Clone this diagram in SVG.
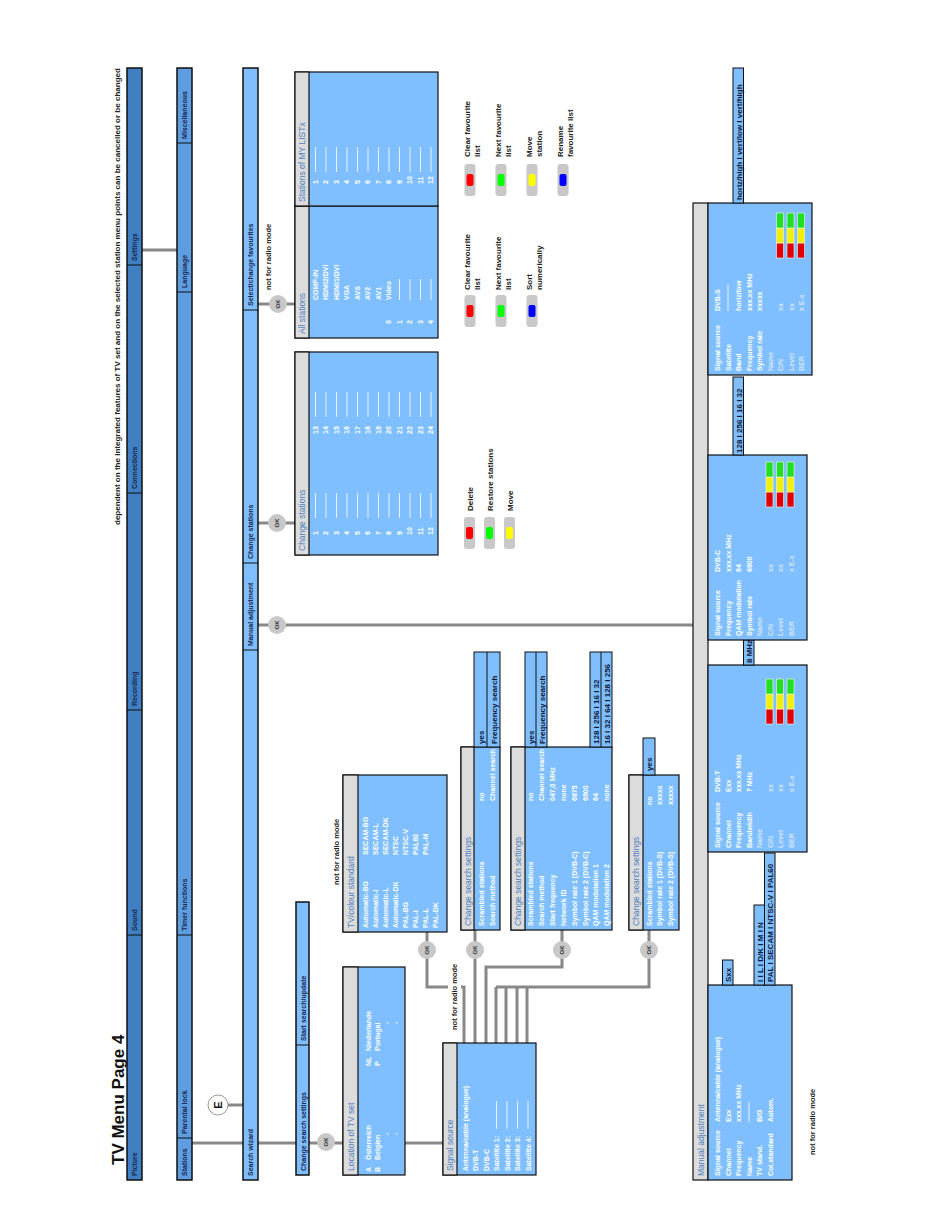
<svg xmlns="http://www.w3.org/2000/svg" width="950" height="1229" viewBox="0 0 950 1229">
<style>
text{font-family:"Liberation Sans",Arial,Helvetica,sans-serif}
.bA{fill:#3f7fc2;stroke:#111;stroke-width:1.5}
.bB{fill:#5d9de0;stroke:#111;stroke-width:1.5}
.bC{fill:#80bfff;stroke:#111;stroke-width:1.5}
.dv{stroke:#111;stroke-width:1}
.lb{font-size:7px;font-weight:bold;fill:#1a2850}
.box{fill:#80bfff;stroke:#111;stroke-width:1.2}
.side{fill:#80bfff;stroke:#111;stroke-width:1}
.strip{fill:#dcdcdc;stroke:#111;stroke-width:1.2}
.tt{font-size:8.5px;fill:#4f81bd}
.ct{font-size:7px;font-weight:bold;fill:#fff}
.dm{font-size:7px;font-weight:bold;fill:#d2e4f6}
.sb{font-size:8px;font-weight:bold;fill:#0d1a3a}
.nt{font-size:7.5px;font-weight:bold;fill:#222}
.cn{stroke:#888;stroke-width:3;fill:none}
.okc{fill:#c8c8c8}
.okt{font-size:6px;font-weight:bold;fill:#333;text-anchor:middle}
.dash{stroke:#fff;stroke-width:0.8}
.btn{fill:#c8c8c8}
.bl{font-size:8px;font-weight:bold;fill:#222}
</style>
<defs>
<g id="meter">
<rect x="0" y="0" width="15" height="7" fill="#e00000" stroke="#f4f4f4" stroke-width="0.6"/>
<rect x="15" y="0" width="15" height="7" fill="#f0f000" stroke="#f4f4f4" stroke-width="0.6"/>
<rect x="30" y="0" width="15" height="7" fill="#20e020" stroke="#f4f4f4" stroke-width="0.6"/>
</g>
<g id="ok"><circle class="okc" cx="0" cy="0" r="9"/><text class="okt" x="0" y="2.2">OK</text></g>
</defs>
<g transform="translate(0,1229) rotate(-90)">

<text x="64" y="124" font-size="17" font-weight="bold" fill="#111">TV Menu Page 4</text>
<text class="nt" x="1161" y="120" text-anchor="end" textLength="457" lengthAdjust="spacingAndGlyphs">dependent on the integrated features of TV set and on the selected station menu points can be cancelled or be changed</text>

<g id="connectors">
<path class="cn" d="M979 142 L979 177"/>
<path class="cn" d="M86 192 L86 243"/>
<path class="cn" d="M124 228 L124 243"/>
<path class="cn" d="M86 258 L86 296"/>
<path class="cn" d="M86 309 L86 343"/>
<path class="cn" d="M86 405 L86 443"/>
<path class="cn" d="M604 258 L604 693"/>
<path class="cn" d="M706 258 L706 295"/>
<path class="cn" d="M925 258 L925 295"/>
<path class="cn" d="M186 464 L242 464 L242 427 L297 427"/>
<path class="cn" d="M186 475 L299 475"/>
<path class="cn" d="M186 486 L262 486 L262 562 L299 562"/>
<path class="cn" d="M186 496 L242 496 M186 506 L242 506 M186 517 L242 517 M186 527 L242 527 M242 496 L242 649 L299 649"/>
<rect x="195" y="448" width="78" height="13" fill="#fff"/>
</g>

<g id="menu-main">
<rect class="bA" x="49" y="127" width="1112" height="15"/>
<path class="dv" d="M294 127V142M519 127V142M736 127V142M964 127V142"/>
<text class="lb" x="53" y="137">Picture</text>
<text class="lb" x="298" y="137">Sound</text>
<text class="lb" x="523" y="137">Recording</text>
<text class="lb" x="740" y="137">Connections</text>
<text class="lb" x="968" y="137">Settings</text>
</g>

<g id="menu-settings">
<rect class="bB" x="49" y="177" width="1112" height="15"/>
<path class="dv" d="M91 177V192M294 177V192M937 177V192M1086 177V192"/>
<text class="lb" x="53" y="187">Stations</text>
<text class="lb" x="95" y="187">Parental lock</text>
<text class="lb" x="298" y="187">Timer functions</text>
<text class="lb" x="941" y="187">Language</text>
<text class="lb" x="1090" y="187">Miscellaneous</text>
</g>

<g id="e-marker">
<circle cx="124" cy="218" r="10" fill="#fff" stroke="#999" stroke-width="1"/>
<text x="124" y="222" font-size="11" font-weight="bold" text-anchor="middle" fill="#111">E</text>
</g>

<g id="menu-stations">
<rect class="bC" x="49" y="243" width="1112" height="15"/>
<path class="dv" d="M579 243V258M666 243V258M919 243V258"/>
<text class="lb" x="53" y="253">Search wizard</text>
<text class="lb" x="583" y="253">Manual adjustment</text>
<text class="lb" x="670" y="253">Change stations</text>
<text class="lb" x="923" y="253">Select/change favourites</text>
</g>

<g id="menu-search-wizard">
<rect class="bC" x="54" y="296" width="273" height="13"/>
<path class="dv" d="M184 296V309"/>
<text class="lb" x="58" y="305.5">Change search settings</text>
<text class="lb" x="188" y="305.5">Start search/update</text>
</g>

<g id="ok-nodes">
<use href="#ok" x="87" y="326"/>
<use href="#ok" x="604" y="277"/>
<use href="#ok" x="706" y="277"/>
<use href="#ok" x="925" y="278"/>
<use href="#ok" x="279" y="427"/>
<use href="#ok" x="279" y="475"/>
<use href="#ok" x="279" y="562"/>
<use href="#ok" x="279" y="649"/>
</g>

<g id="notes">
<text class="nt" x="939" y="271">not for radio mode</text>
<text class="nt" x="344" y="339">not for radio mode</text>
<text class="nt" x="199" y="457">not for radio mode</text>
<text class="nt" x="74" y="815">not for radio mode</text>
</g>

<g id="location">
<rect class="box" x="54" y="343" width="208" height="62"/>
<rect class="strip" x="54" y="343" width="208" height="15"/>
<text class="tt" x="58" y="353.5">Location of TV set</text>
<text class="ct" x="57" y="370.5">A</text><text class="ct" x="69" y="370.5">Österreich</text><text class="ct" x="163" y="370.5">NL</text><text class="ct" x="178" y="370.5">Niederlande</text>
<text class="ct" x="57" y="379.5">B</text><text class="ct" x="69" y="379.5">Belgien</text><text class="ct" x="163" y="379.5">P</text><text class="ct" x="178" y="379.5">Portugal</text>
<text class="ct" x="94" y="388.5">-</text><text class="ct" x="205" y="388.5">-</text>
<text class="ct" x="94" y="397.5">-</text><text class="ct" x="205" y="397.5">-</text>
</g>

<g id="signal-source">
<rect class="box" x="54" y="443" width="132" height="93"/>
<rect class="strip" x="54" y="443" width="132" height="14"/>
<text class="tt" x="58" y="453">Signal source</text>
<text class="ct" x="58" y="467.5">Antenna/cable (analogue)</text>
<text class="ct" x="58" y="478">DVB-T</text>
<text class="ct" x="58" y="488.5">DVB-C</text>
<text class="ct" x="58" y="499">Satellite 1:</text>
<text class="ct" x="58" y="509.5">Satellite 2:</text>
<text class="ct" x="58" y="520">Satellite 3:</text>
<text class="ct" x="58" y="530.5">Satellite 4:</text>
<path class="dash" d="M100 496.5H128M100 507H128M100 517.5H128M100 528H128"/>
</g>

<g id="tv-colour-standard">
<rect class="box" x="297" y="343" width="157" height="104"/>
<rect class="strip" x="297" y="343" width="157" height="15"/>
<text class="tt" x="301" y="353.5">TV/colour standard</text>
<text class="ct" x="301" y="368">Automatic-BG</text><text class="ct" x="374" y="368">SECAM-BG</text>
<text class="ct" x="301" y="378">Automatic-I</text><text class="ct" x="374" y="378">SECAM-L</text>
<text class="ct" x="301" y="388">Automatic-L</text><text class="ct" x="374" y="388">SECAM-DK</text>
<text class="ct" x="301" y="398">Automatic-DK</text><text class="ct" x="374" y="398">NTSC</text>
<text class="ct" x="301" y="408">PAL-BG</text><text class="ct" x="374" y="408">NTSC-V</text>
<text class="ct" x="301" y="418">PAL-I</text><text class="ct" x="374" y="418">PAL60</text>
<text class="ct" x="301" y="428">PAL-L</text><text class="ct" x="374" y="428">PAL-M</text>
<text class="ct" x="301" y="438">PAL-DK</text>
</g>

<g id="search-settings-dvbt">
<rect class="box" x="299" y="461" width="183" height="39"/>
<rect class="strip" x="299" y="461" width="183" height="13"/>
<text class="tt" x="303" y="470.5">Change search settings</text>
<text class="ct" x="303" y="483.5">Scrambled stations</text><text class="ct" x="428" y="483.5">no</text>
<text class="ct" x="303" y="495">Search method</text><text class="ct" x="428" y="495">Channel search</text>
<rect class="side" x="482" y="474" width="95" height="26"/>
<path class="dv" d="M482 487H577"/>
<text class="sb" x="485" y="484">yes</text>
<text class="sb" x="485" y="497">Frequency search</text>
</g>

<g id="search-settings-dvbc">
<rect class="box" x="299" y="511" width="183" height="101"/>
<rect class="strip" x="299" y="511" width="183" height="14"/>
<text class="tt" x="303" y="521">Change search settings</text>
<text class="ct" x="303" y="533">Scrambled stations</text><text class="ct" x="428" y="533">no</text>
<text class="ct" x="303" y="544">Search method</text><text class="ct" x="428" y="544">Channel search</text>
<text class="ct" x="303" y="555">Start frequency</text><text class="ct" x="428" y="555">047,0 MHz</text>
<text class="ct" x="303" y="565.5">Network ID</text><text class="ct" x="428" y="565.5">none</text>
<text class="ct" x="303" y="576.5">Symbol rate 1 (DVB-C)</text><text class="ct" x="428" y="576.5">6875</text>
<text class="ct" x="303" y="587.5">Symbol rate 2 (DVB-C)</text><text class="ct" x="428" y="587.5">6900</text>
<text class="ct" x="303" y="598">QAM modulation 1</text><text class="ct" x="428" y="598">64</text>
<text class="ct" x="303" y="609">QAM modulation 2</text><text class="ct" x="428" y="609">none</text>
<rect class="side" x="482" y="525" width="95" height="22"/>
<path class="dv" d="M482 536H577"/>
<text class="sb" x="485" y="534">yes</text>
<text class="sb" x="485" y="545">Frequency search</text>
<rect class="side" x="482" y="590" width="95" height="22"/>
<path class="dv" d="M482 601H577"/>
<text class="sb" x="485" y="598.5">128 I 256 I 16 I 32</text>
<text class="sb" x="485" y="609.5">16 I 32 I 64 I 128 I 256</text>
</g>

<g id="search-settings-dvbs">
<rect class="box" x="299" y="629" width="155" height="50"/>
<rect class="strip" x="299" y="629" width="155" height="14"/>
<text class="tt" x="303" y="639">Change search settings</text>
<text class="ct" x="303" y="651.5">Scrambled stations</text><text class="ct" x="424" y="651.5">no</text>
<text class="ct" x="303" y="662">Symbol rate 1 (DVB-S)</text><text class="ct" x="424" y="662">xxxxx</text>
<text class="ct" x="303" y="672.5">Symbol rate 2 (DVB-S)</text><text class="ct" x="424" y="672.5">xxxxx</text>
<rect class="side" x="454" y="643" width="37" height="12"/>
<text class="sb" x="458" y="652">yes</text>
</g>

<g id="change-stations">
<rect class="box" x="674" y="295" width="203" height="143"/>
<rect class="strip" x="674" y="295" width="203" height="14"/>
<text class="tt" x="678" y="305">Change stations</text>
<text class="ct" x="694" y="317.5">1</text><text class="ct" x="795" y="317.5">13</text>
<text class="ct" x="694" y="328">2</text><text class="ct" x="795" y="328">14</text>
<text class="ct" x="694" y="338.5">3</text><text class="ct" x="795" y="338.5">15</text>
<text class="ct" x="694" y="349">4</text><text class="ct" x="795" y="349">16</text>
<text class="ct" x="694" y="359.5">5</text><text class="ct" x="795" y="359.5">17</text>
<text class="ct" x="694" y="370">6</text><text class="ct" x="795" y="370">18</text>
<text class="ct" x="694" y="380.5">7</text><text class="ct" x="795" y="380.5">19</text>
<text class="ct" x="694" y="391">8</text><text class="ct" x="795" y="391">20</text>
<text class="ct" x="694" y="401.5">9</text><text class="ct" x="795" y="401.5">21</text>
<text class="ct" x="694" y="412">10</text><text class="ct" x="795" y="412">22</text>
<text class="ct" x="694" y="422.5">11</text><text class="ct" x="795" y="422.5">23</text>
<text class="ct" x="694" y="433">12</text><text class="ct" x="795" y="433">24</text>
<path class="dash" d="M711 315.5H736M711 326H736M711 336.5H736M711 347H736M711 357.5H736M711 368H736M711 378.5H736M711 389H736M711 399.5H736M711 410H736M711 420.5H736M711 431H736"/>
<path class="dash" d="M812 315.5H837M812 326H837M812 336.5H837M812 347H837M812 357.5H837M812 368H837M812 378.5H837M812 389H837M812 399.5H837M812 410H837M812 420.5H837M812 431H837"/>
</g>

<g id="all-stations">
<rect class="box" x="891" y="295" width="132" height="143"/>
<rect class="strip" x="891" y="295" width="132" height="14"/>
<text class="tt" x="895" y="305">All stations</text>
<text class="ct" x="929" y="317.5">COMP-IN</text>
<text class="ct" x="929" y="328">HDMI2/DVI</text>
<text class="ct" x="929" y="338.5">HDMI1/DVI</text>
<text class="ct" x="929" y="349">VGA</text>
<text class="ct" x="929" y="359.5">AVS</text>
<text class="ct" x="929" y="370">AV2</text>
<text class="ct" x="929" y="380.5">AV1</text>
<text class="ct" x="905" y="391">0</text><text class="ct" x="929" y="391">Video</text>
<text class="ct" x="905" y="401.5">1</text>
<text class="ct" x="905" y="412">2</text>
<text class="ct" x="905" y="422.5">3</text>
<text class="ct" x="905" y="433">4</text>
<path class="dash" d="M929 399.5H950M929 410H950M929 420.5H950M929 431H950"/>
</g>

<g id="my-list">
<rect class="box" x="1023" y="295" width="134" height="143"/>
<rect class="strip" x="1023" y="295" width="134" height="14"/>
<text class="tt" x="1027" y="305">Stations of MY LISTx</text>
<text class="ct" x="1045" y="317.5">1</text>
<text class="ct" x="1045" y="328">2</text>
<text class="ct" x="1045" y="338.5">3</text>
<text class="ct" x="1045" y="349">4</text>
<text class="ct" x="1045" y="359.5">5</text>
<text class="ct" x="1045" y="370">6</text>
<text class="ct" x="1045" y="380.5">7</text>
<text class="ct" x="1045" y="391">8</text>
<text class="ct" x="1045" y="401.5">9</text>
<text class="ct" x="1045" y="412">10</text>
<text class="ct" x="1045" y="422.5">11</text>
<text class="ct" x="1045" y="433">12</text>
<path class="dash" d="M1057 315.5H1082M1057 326H1082M1057 336.5H1082M1057 347H1082M1057 357.5H1082M1057 368H1082M1057 378.5H1082M1057 389H1082M1057 399.5H1082M1057 410H1082M1057 420.5H1082M1057 431H1082"/>
</g>

<g id="buttons-change">
<rect class="btn" x="680" y="464" width="32" height="11" rx="3"/><rect x="690" y="466" width="12" height="7" rx="2" fill="#ff0000"/>
<rect class="btn" x="680" y="484" width="32" height="11" rx="3"/><rect x="690" y="486" width="12" height="7" rx="2" fill="#00ff00"/>
<rect class="btn" x="680" y="504" width="32" height="11" rx="3"/><rect x="690" y="506" width="12" height="7" rx="2" fill="#ffff00"/>
<text class="bl" x="718" y="472.5">Delete</text>
<text class="bl" x="718" y="492.5">Restore stations</text>
<text class="bl" x="718" y="512.5">Move</text>
</g>

<g id="buttons-all">
<rect class="btn" x="902" y="464.5" width="32" height="11" rx="3"/><rect x="912" y="466.5" width="12" height="7" rx="2" fill="#ff0000"/>
<rect class="btn" x="902" y="495.5" width="32" height="11" rx="3"/><rect x="912" y="497.5" width="12" height="7" rx="2" fill="#00ff00"/>
<rect class="btn" x="902" y="526.5" width="32" height="11" rx="3"/><rect x="912" y="528.5" width="12" height="7" rx="2" fill="#0000ff"/>
<text class="bl" x="939" y="470">Clear favourite</text><text class="bl" x="939" y="480">list</text>
<text class="bl" x="939" y="501">Next favourite</text><text class="bl" x="939" y="511">list</text>
<text class="bl" x="939" y="532">Sort</text><text class="bl" x="939" y="542">numerically</text>
</g>

<g id="buttons-mylist">
<rect class="btn" x="1033" y="464.5" width="32" height="11" rx="3"/><rect x="1043" y="466.5" width="12" height="7" rx="2" fill="#ff0000"/>
<rect class="btn" x="1033" y="495.5" width="32" height="11" rx="3"/><rect x="1043" y="497.5" width="12" height="7" rx="2" fill="#00ff00"/>
<rect class="btn" x="1033" y="526.5" width="32" height="11" rx="3"/><rect x="1043" y="528.5" width="12" height="7" rx="2" fill="#ffff00"/>
<rect class="btn" x="1033" y="557.5" width="32" height="11" rx="3"/><rect x="1043" y="559.5" width="12" height="7" rx="2" fill="#0000ff"/>
<text class="bl" x="1072" y="470">Clear favourite</text><text class="bl" x="1072" y="480">list</text>
<text class="bl" x="1072" y="501">Next favourite</text><text class="bl" x="1072" y="511">list</text>
<text class="bl" x="1072" y="532">Move</text><text class="bl" x="1072" y="542">station</text>
<text class="bl" x="1072" y="563">Rename</text><text class="bl" x="1072" y="573">favourite list</text>
</g>

<g id="manual-adjustment">
<rect class="strip" x="49" y="693" width="977" height="15"/>
<text class="tt" x="53" y="703.5">Manual adjustment</text>
</g>

<g id="manual-analogue">
<rect class="box" x="49" y="708" width="195" height="84"/>
<text class="ct" x="53" y="720">Signal source</text><text class="ct" x="107" y="720">Antenna/cable (analogue)</text>
<text class="ct" x="53" y="730.5">Channel</text><text class="ct" x="107" y="730.5">Exx</text>
<text class="ct" x="53" y="741">Frequency</text><text class="ct" x="107" y="741">xxx.xx MHz</text>
<text class="ct" x="53" y="751.5">Name</text>
<text class="ct" x="53" y="762">TV stand.</text><text class="ct" x="107" y="762">B/G</text>
<text class="ct" x="53" y="772.5">Col.standard</text><text class="ct" x="107" y="772.5">Autom.</text>
<path class="dash" d="M107 749H127"/>
<rect class="side" x="244" y="722.5" width="25" height="10.5"/>
<text class="sb" x="247" y="731">Sxx</text>
<rect class="side" x="244" y="754" width="80" height="10.5"/>
<text class="sb" x="247" y="762.5">I I L I D/K I M I N</text>
<rect class="side" x="244" y="764.5" width="132" height="10.5"/>
<text class="sb" x="247" y="773">PAL I SECAM I NTSC-V I PAL60</text>
</g>

<g id="manual-dvbt">
<rect class="box" x="377" y="708" width="187" height="99"/>
<text class="ct" x="381" y="720">Signal source</text><text class="ct" x="437" y="720">DVB-T</text>
<text class="ct" x="381" y="730.5">Channel</text><text class="ct" x="437" y="730.5">Exx</text>
<text class="ct" x="381" y="741">Frequency</text><text class="ct" x="437" y="741">xxx.xx MHz</text>
<text class="ct" x="381" y="751.5">Bandwidth</text><text class="ct" x="437" y="751.5">7 MHz</text>
<text class="dm" x="381" y="762">Name</text>
<text class="dm" x="381" y="772.5">C/N</text><text class="dm" x="437" y="772.5">xx</text>
<text class="dm" x="381" y="783">Level</text><text class="dm" x="437" y="783">xx</text>
<text class="dm" x="381" y="793.5">BER</text><text class="dm" x="437" y="793.5">x E-x</text>
<use href="#meter" x="505" y="766"/>
<use href="#meter" x="505" y="776.5"/>
<use href="#meter" x="505" y="787"/>
<rect class="side" x="564" y="743.5" width="25" height="10.5"/>
<text class="sb" x="566" y="752">8 MHz</text>
</g>

<g id="manual-dvbc">
<rect class="box" x="589" y="708" width="185" height="99"/>
<text class="ct" x="593" y="720">Signal source</text><text class="ct" x="657" y="720">DVB-C</text>
<text class="ct" x="593" y="730.5">Frequency</text><text class="ct" x="657" y="730.5">xxx.xx MHz</text>
<text class="ct" x="593" y="741">QAM modulation</text><text class="ct" x="657" y="741">64</text>
<text class="ct" x="593" y="751.5">Symbol rate</text><text class="ct" x="657" y="751.5">6900</text>
<text class="dm" x="593" y="762">Name</text>
<text class="dm" x="593" y="772.5">C/N</text><text class="dm" x="657" y="772.5">xx</text>
<text class="dm" x="593" y="783">Level</text><text class="dm" x="657" y="783">xx</text>
<text class="dm" x="593" y="793.5">BER</text><text class="dm" x="657" y="793.5">x E-x</text>
<use href="#meter" x="722" y="766"/>
<use href="#meter" x="722" y="776.5"/>
<use href="#meter" x="722" y="787"/>
<rect class="side" x="774" y="733" width="78" height="10.5"/>
<text class="sb" x="776" y="741.5">128 I 256 I 16 I 32</text>
</g>

<g id="manual-dvbs">
<rect class="box" x="854" y="708" width="172" height="104"/>
<text class="ct" x="858" y="720">Signal source</text><text class="ct" x="918" y="720">DVB-S</text>
<text class="ct" x="858" y="730.5">Satellite</text>
<text class="ct" x="858" y="741">Band</text><text class="ct" x="918" y="741">horiz/low</text>
<text class="ct" x="858" y="751.5">Frequency</text><text class="ct" x="918" y="751.5">xxx.xx MHz</text>
<text class="ct" x="858" y="762">Symbol rate</text><text class="ct" x="918" y="762">xxxxx</text>
<text class="dm" x="858" y="772.5">Name</text>
<text class="dm" x="858" y="783">C/N</text><text class="dm" x="918" y="783">xx</text>
<text class="dm" x="858" y="793.5">Level</text><text class="dm" x="918" y="793.5">xx</text>
<text class="dm" x="858" y="804">BER</text><text class="dm" x="918" y="804">x E-x</text>
<path class="dash" d="M918 728H945"/>
<use href="#meter" x="971" y="776.5"/>
<use href="#meter" x="971" y="787"/>
<use href="#meter" x="971" y="797.5"/>
<rect class="side" x="1026" y="733" width="135" height="10.5"/>
<text class="sb" x="1029" y="741.5">horiz/high I vert/low I vert/high</text>
</g>

</g>
</svg>
